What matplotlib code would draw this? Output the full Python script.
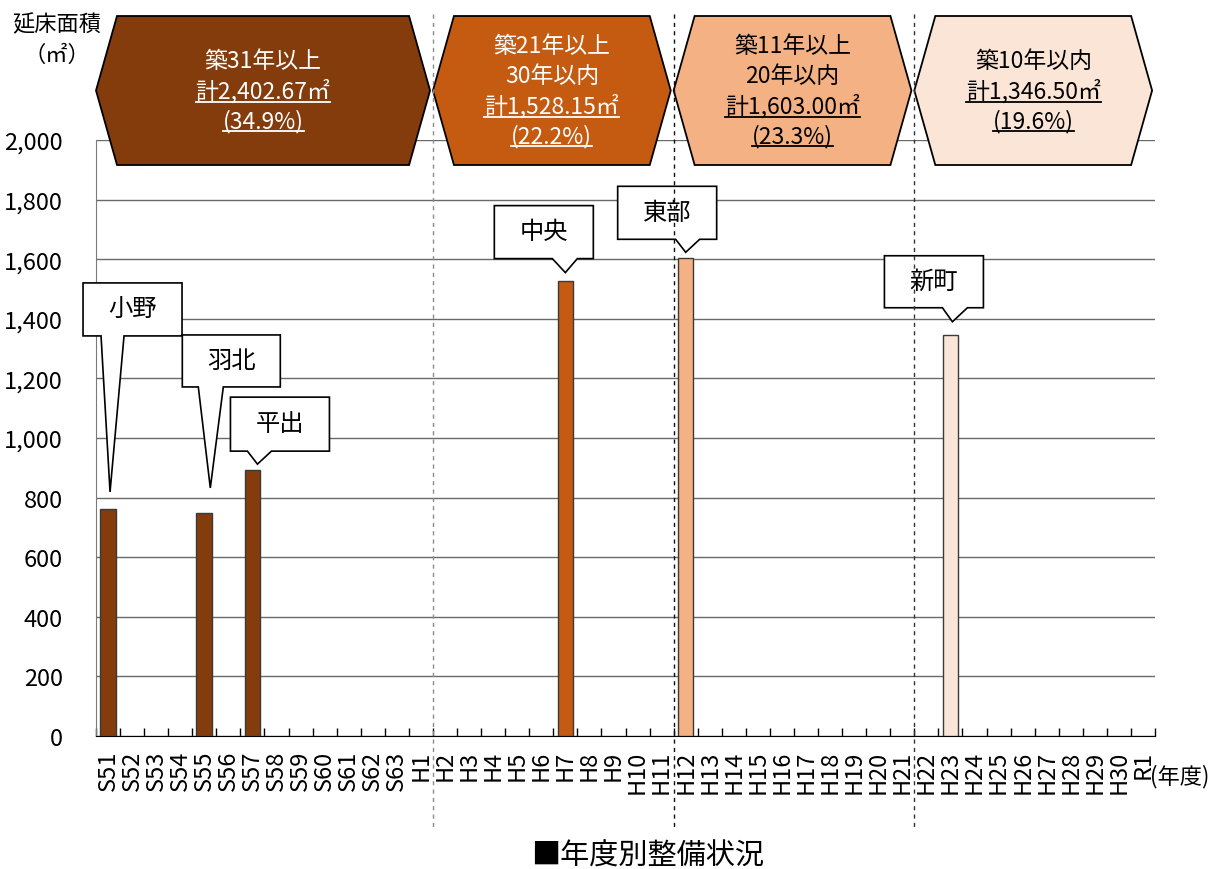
import numpy as np
import matplotlib
matplotlib.use("Agg")
import matplotlib.pyplot as plt
from matplotlib.patches import Polygon
from matplotlib.lines import Line2D
from matplotlib.transforms import Affine2D, ScaledTranslation, blended_transform_factory

plt.rcParams['font.family'] = ['Liberation Sans Narrow', 'Noto Sans CJK JP', 'DejaVu Sans']

# ---- data -------------------------------------------------------------
years = ([f"S{n}" for n in range(51, 64)] +
         [f"H{n}" for n in range(1, 31)] + ["R1"])
built_years = ["S51", "S55", "S57", "H7", "H12", "H23"]
facilities = ["小野", "羽北", "平出", "中央", "東部", "新町"]
floor_area = [762.00, 748.50, 892.17, 1528.15, 1603.00, 1346.50]

age_groups = [["築31年以上"], ["築21年以上", "30年以内"],
              ["築11年以上", "20年以内"], ["築10年以内"]]
group_edges = ["S51", "H2", "H12", "H22"]   # first year of each age band
group_colors = ["#843C0C", "#C55A11", "#F4B183", "#FBE5D6"]
group_text = ["white", "white", "black", "black"]

y_ticks = list(range(0, 2001, 200))

# ---- figure -----------------------------------------------------------
W, H = 1223, 870
fig = plt.figure(figsize=(W / 100, H / 100), dpi=100)
ax = fig.add_axes([96 / W, 1 - 737 / H, (1155 - 96) / W, (737 - 141) / H])


def fy(py):
    return 1 - py / H


x = np.arange(len(years))
pos = [years.index(y) for y in built_years]
starts = [years.index(g) for g in group_edges] + [len(years)]
bounds = [s - 0.5 for s in starts]


def group_of(i):
    return max(k for k in range(len(group_edges)) if starts[k] <= i)


bar_colors = [group_colors[group_of(i)] for i in pos]
ax.bar(pos, floor_area, width=0.65, color=bar_colors,
       edgecolor="#3a3a3a", linewidth=1, zorder=3)

ax.set_xlim(-0.5, len(years) - 0.5)
ax.set_ylim(0, 2000)
ax.set_yticks(y_ticks, [f"{v:,}" for v in y_ticks])
ax.yaxis.grid(True, color="#6a6a6a", linewidth=1)
ax.set_axisbelow(True)
for s in ("top", "right"):
    ax.spines[s].set_visible(False)
ax.spines["left"].set_color("#7a7a7a")
ax.spines["bottom"].set_color("black")
ax.tick_params(axis="y", length=0, pad=24, labelsize=17)

ax.set_xticks(x, years, rotation=90)
ax.set_xticks(np.arange(-0.5, len(years), 1), minor=True)
ax.tick_params(axis="x", which="major", length=0, pad=10, labelsize=17)
ax.tick_params(axis="x", which="minor", direction="in", length=6,
               color="black", width=1)

fig.text(1150 / W, fy(777), "(年度)", ha="left", va="center", fontsize=16)
fig.text(57 / W, fy(25), "延床面積", ha="center", va="center", fontsize=16)
fig.text(57 / W, fy(55), "（㎡）", ha="center", va="center", fontsize=16)
fig.text(648 / W, fy(857), "■年度別整備状況", ha="center", va="center", fontsize=21)

# ---- era separators ---------------------------------------------------
blend = blended_transform_factory(ax.transData, fig.transFigure)
sep_colors = ["#8c8c8c", "#111111", "#333333"]
for b, c in zip(bounds[1:-1], sep_colors):
    fig.add_artist(Line2D([b, b], [fy(15), fy(828)], transform=blend,
                          color=c, linewidth=1, linestyle=(0, (3, 3)),
                          zorder=1))

# ---- age-band banners -------------------------------------------------
totals = [sum(a for a, i in zip(floor_area, pos) if group_of(i) == k)
          for k in range(len(group_edges))]
grand = sum(totals)
inset = 21 / 24.07
top, bot = fy(17), fy(166)
mid = (top + bot) / 2
underlined = []
for k in range(len(group_edges)):
    x0, x1 = bounds[k], bounds[k + 1] - 0.12
    verts = [(x0, mid), (x0 + inset, top), (x1 - inset, top), (x1, mid),
             (x1 - inset, bot), (x0 + inset, bot)]
    ax.add_patch(Polygon(verts, closed=True, transform=blend, clip_on=False,
                         facecolor=group_colors[k], edgecolor="black",
                         linewidth=1.3, zorder=5))
    lines = age_groups[k] + [f"計{totals[k]:,.2f}㎡",
                             f"({totals[k] / grand * 100:.1f}%)"]
    n = len(lines)
    cx = (x0 + x1) / 2
    for j, txt in enumerate(lines):
        py = 91.5 + (j - (n - 1) / 2) * 30
        t = ax.text(cx, fy(py), txt, transform=blend, ha="center",
                    va="center", fontsize=16.5, color=group_text[k],
                    zorder=6, clip_on=False)
        if j >= n - 2:
            underlined.append(t)

# ---- facility callouts (pixel offsets from the bar top, y up) ---------
callouts = {
    "小野": dict(box=(-25, 74, 173, 226), base=(-7, 16), tip=(2, 17)),
    "羽北": dict(box=(-22, 76, 126, 178), base=(-6, 19), tip=(6, 25)),
    "平出": dict(box=(-22, 77, 19, 73), base=(-5, 19), tip=(5, 6)),
    "中央": dict(box=(-71, 28, 22, 75), base=(-13, 12), tip=(0, 8)),
    "東部": dict(box=(-68, 31, 19, 72), base=(-10, 14), tip=(0, 6)),
    "新町": dict(box=(-66, 33, 27, 79), base=(-8, 17), tip=(2, 13)),
}
for name, i, val in zip(facilities, pos, floor_area):
    c = callouts[name]
    bx0, bx1, by0, by1 = c["box"]
    p0, p1 = c["base"]
    tx, ty = c["tip"]
    tr = (Affine2D().scale(1 / 100) + fig.dpi_scale_trans +
          ScaledTranslation(i, val, ax.transData))
    verts = [(bx0, by0), (p0, by0), (tx, ty), (p1, by0), (bx1, by0),
             (bx1, by1), (bx0, by1)]
    ax.add_patch(Polygon(verts, closed=True, transform=tr, clip_on=False,
                         facecolor="white", edgecolor="black",
                         linewidth=1.2, zorder=7))
    ax.text((bx0 + bx1) / 2, (by0 + by1) / 2 + 1, name, transform=tr,
            ha="center", va="center", fontsize=17.5,
            zorder=8, clip_on=False)

# ---- underline totals and shares --------------------------------------
fig.canvas.draw()
renderer = fig.canvas.get_renderer()
for t in underlined:
    bb = t.get_window_extent(renderer)
    yline = bb.y0 + 1
    fig.add_artist(Line2D([bb.x0 / W, bb.x1 / W], [yline / H, yline / H],
                          color=t.get_color(), linewidth=1.3, zorder=9))

fig.savefig("out.png", dpi=100)
